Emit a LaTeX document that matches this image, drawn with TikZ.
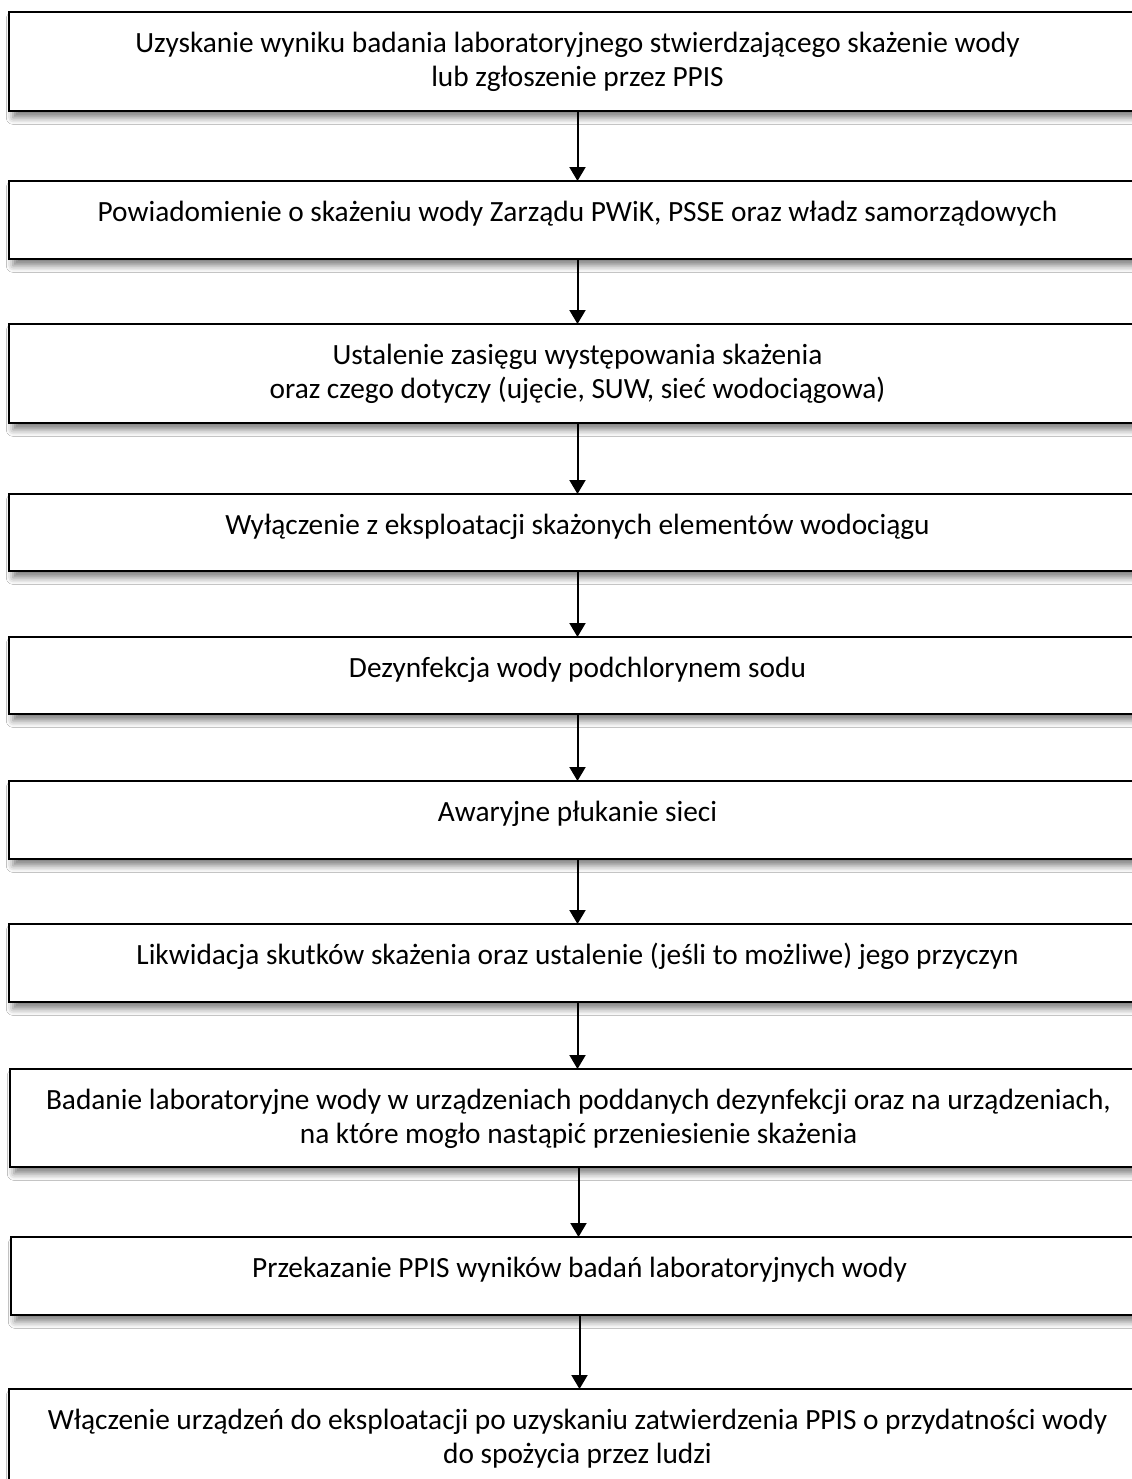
\documentclass[tikz,border=0pt]{standalone}
\usepackage{fontspec}
\setmainfont{Carlito}
\usetikzlibrary{arrows.meta,shadows.blur}
\tikzset{
  flowbox/.style={draw=black, line width=2.2pt, fill=white, inner sep=0pt, outer sep=0pt,
    anchor=north west, minimum width=852.75pt,
    blur shadow={shadow xshift=3pt, shadow yshift=-5pt, shadow blur radius=5pt, shadow opacity=50}},
  flowtext/.style={anchor=north, inner sep=0pt, align=center, font=\fontsize{22}{25.5}\selectfont},
  flowarrow/.style={line width=1.5pt, -{Triangle[width=12pt,length=10.5pt]}}
}
\begin{document}
\begin{tikzpicture}[x=0.75pt, y=-0.75pt]
\useasboundingbox (0,0) rectangle (1132,1479);
\fill[white] (0,0) rectangle (1132,1479);
\clip (0,0) rectangle (1132,1479);

\node[flowbox, minimum height=74.25pt] (b1) at (9,12) {};
\node[flowtext] (t1) at ([yshift=-12.6pt]b1.north) {\strut Uzyskanie wyniku badania laboratoryjnego stwierdzającego skażenie wody\\lub zgłoszenie przez PPIS};

\node[flowbox, minimum height=58.5pt] (b2) at (9,181) {};
\node[flowtext] (t2) at ([yshift=-12.6pt]b2.north) {\strut Powiadomienie o skażeniu wody Zarządu PWiK, PSSE oraz władz samorządowych};

\node[flowbox, minimum height=74.25pt] (b3) at (9,324) {};
\node[flowtext] (t3) at ([yshift=-12.6pt]b3.north) {\strut Ustalenie zasięgu występowania skażenia\\oraz czego dotyczy (ujęcie, SUW, sieć wodociągowa)};

\node[flowbox, minimum height=57.75pt] (b4) at (9,494) {};
\node[flowtext] (t4) at ([yshift=-12.6pt]b4.north) {\strut Wyłączenie z eksploatacji skażonych elementów wodociągu};

\node[flowbox, minimum height=57.75pt] (b5) at (9,637) {};
\node[flowtext] (t5) at ([yshift=-12.6pt]b5.north) {\strut Dezynfekcja wody podchlorynem sodu};

\node[flowbox, minimum height=58.5pt] (b6) at (9,781) {};
\node[flowtext] (t6) at ([yshift=-12.6pt]b6.north) {\strut Awaryjne płukanie sieci};

\node[flowbox, minimum height=58.5pt] (b7) at (9,924) {};
\node[flowtext] (t7) at ([yshift=-12.6pt]b7.north) {\strut Likwidacja skutków skażenia oraz ustalenie (jeśli to możliwe) jego przyczyn};

\node[flowbox, minimum height=73.5pt] (b8) at (10,1069) {};
\node[flowtext] (t8) at ([yshift=-12.6pt]b8.north) {\strut Badanie laboratoryjne wody w urządzeniach poddanych dezynfekcji oraz na urządzeniach,\\na które mogło nastąpić przeniesienie skażenia};

\node[flowbox, minimum height=58.5pt] (b9) at (11,1237) {};
\node[flowtext] (t9) at ([yshift=-12.6pt]b9.north) {\strut Przekazanie PPIS wyników badań laboratoryjnych wody};

\node[flowbox, minimum height=74.25pt] (b10) at (9,1389) {};
\node[flowtext] (t10) at ([yshift=-12.6pt]b10.north) {\strut Włączenie urządzeń do eksploatacji po uzyskaniu zatwierdzenia PPIS o przydatności wody\\do spożycia przez ludzi};

\draw[flowarrow] (b1.south) -- (b1.south |- b2.north);
\draw[flowarrow] (b2.south) -- (b2.south |- b3.north);
\draw[flowarrow] (b3.south) -- (b3.south |- b4.north);
\draw[flowarrow] (b4.south) -- (b4.south |- b5.north);
\draw[flowarrow] (b5.south) -- (b5.south |- b6.north);
\draw[flowarrow] (b6.south) -- (b6.south |- b7.north);
\draw[flowarrow] (b7.south) -- (b7.south |- b8.north);
\draw[flowarrow] (b8.south) -- (b8.south |- b9.north);
\draw[flowarrow] (b9.south) -- (b9.south |- b10.north);
\end{tikzpicture}
\end{document}
